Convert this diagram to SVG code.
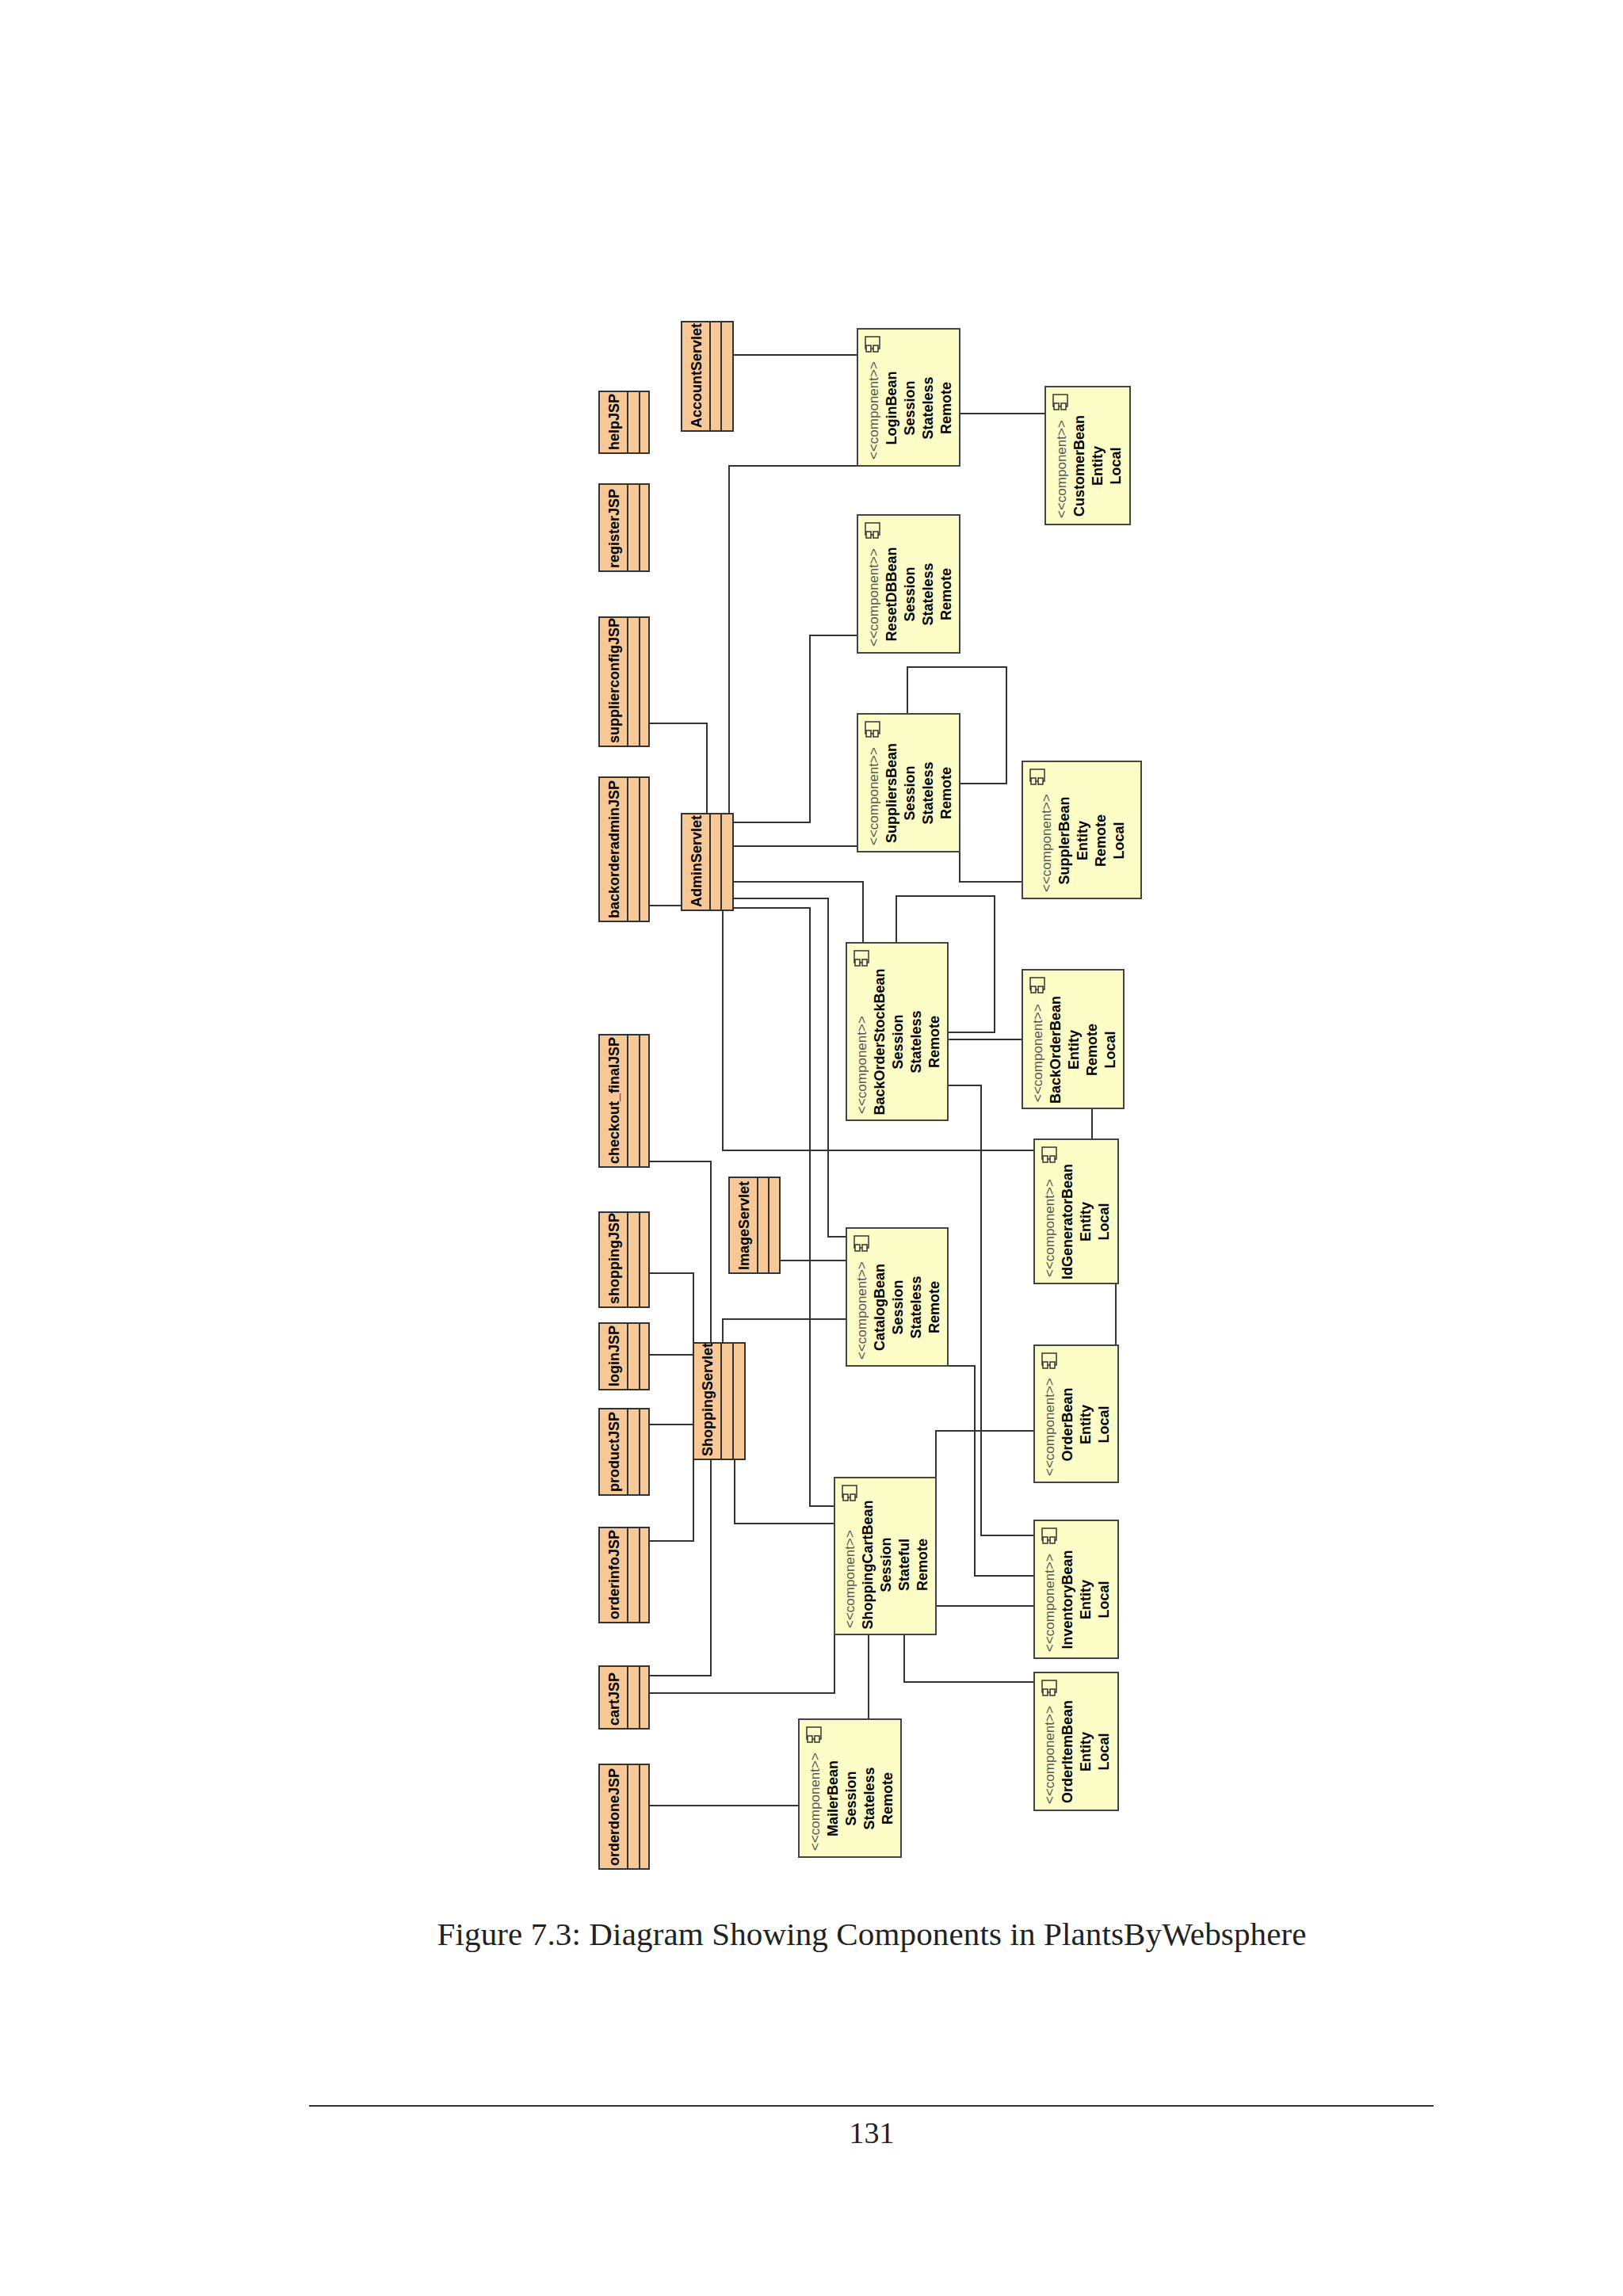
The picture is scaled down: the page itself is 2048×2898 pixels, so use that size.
<svg xmlns="http://www.w3.org/2000/svg" width="2048" height="2898" viewBox="0 0 2048 2898">
<style>
.cls{fill:#F8C896;stroke:#333;stroke-width:2}
.cl{stroke:#333;stroke-width:2}
.bean{fill:#FDFDC8;stroke:#444;stroke-width:2}
.ico{fill:#FDFDC8;stroke:#333;stroke-width:1.5}
.cn{font-family:"Liberation Sans",Arial,sans-serif;font-weight:bold;font-size:18px;fill:#000}
.st{font-family:"Liberation Sans",Arial,sans-serif;font-size:17px;fill:#555}
.bn{font-family:"Liberation Sans",Arial,sans-serif;font-weight:bold;font-size:18px;fill:#000;text-anchor:middle}
#conn path{fill:none;stroke:#333;stroke-width:2}
</style>
<rect width="2048" height="2898" fill="#fff"/>
<g id="conn">
<path d="M925,448 H1082"/>
<path d="M1211,522 H1319"/>
<path d="M920,1027 V588 H1082"/>
<path d="M819,913 H892 V1027"/>
<path d="M819,1143 H860"/>
<path d="M925,1038 H1022 V802 H1082"/>
<path d="M925,1068 H1082"/>
<path d="M1145,901 V842 H1270 V989 H1211"/>
<path d="M1211,1075 V1113 H1290"/>
<path d="M925,1113 H1089 V1190"/>
<path d="M925,1134 H1045 V1561 H1068"/>
<path d="M925,1146 H1022 V1901 H1053"/>
<path d="M912,1149 V1452 H1305"/>
<path d="M1131,1190 V1131 H1255 V1303 H1196"/>
<path d="M1196,1312 H1290"/>
<path d="M1196,1370 H1238 V1938 H1305"/>
<path d="M1378,1399 V1438"/>
<path d="M819,1466 H897 V1695"/>
<path d="M984,1591 H1068"/>
<path d="M912,1695 V1665 H1068"/>
<path d="M819,1607 H875 V1945 H819"/>
<path d="M819,1710 H875"/>
<path d="M819,1798 H875"/>
<path d="M1408,1620 V1698"/>
<path d="M1196,1724 H1230 V1989 H1305"/>
<path d="M1305,1806 H1181 V1865"/>
<path d="M927,1842 V1923 H1053"/>
<path d="M897,1842 V2115 H819"/>
<path d="M1181,2027 H1305"/>
<path d="M1096,2063 V2170"/>
<path d="M1141,2063 V2123 H1305"/>
<path d="M819,2137 H1053 V2063"/>
<path d="M819,2279 H1008"/>
</g>
<defs>
<g id="icon"><rect class="ico" x="2" y="0" width="18" height="15"/><rect class="ico" x="3" y="11" width="6" height="8"/><rect class="ico" x="12" y="11" width="6" height="8"/></g>
</defs>
<g id="helpJSP"><rect class="cls" x="756" y="494" width="63" height="78"/><path class="cl" d="M792,494V572M807,494V572"/><text class="cn" transform="translate(781,568) rotate(-90)">helpJSP</text></g>
<g id="registerJSP"><rect class="cls" x="756" y="611" width="63" height="110"/><path class="cl" d="M792,611V721M807,611V721"/><text class="cn" transform="translate(781,717) rotate(-90)">registerJSP</text></g>
<g id="supplierconfigJSP"><rect class="cls" x="756" y="779" width="63" height="163"/><path class="cl" d="M792,779V942M807,779V942"/><text class="cn" transform="translate(781,938) rotate(-90)">supplierconfigJSP</text></g>
<g id="backorderadminJSP"><rect class="cls" x="756" y="981" width="63" height="182"/><path class="cl" d="M792,981V1163M807,981V1163"/><text class="cn" transform="translate(781,1159) rotate(-90)">backorderadminJSP</text></g>
<g id="checkout_finalJSP"><rect class="cls" x="756" y="1306" width="63" height="167"/><path class="cl" d="M792,1306V1473M807,1306V1473"/><text class="cn" transform="translate(781,1469) rotate(-90)">checkout_finalJSP</text></g>
<g id="shoppingJSP"><rect class="cls" x="756" y="1530" width="63" height="120"/><path class="cl" d="M792,1530V1650M807,1530V1650"/><text class="cn" transform="translate(781,1646) rotate(-90)">shoppingJSP</text></g>
<g id="loginJSP"><rect class="cls" x="756" y="1670" width="63" height="84"/><path class="cl" d="M792,1670V1754M807,1670V1754"/><text class="cn" transform="translate(781,1750) rotate(-90)">loginJSP</text></g>
<g id="productJSP"><rect class="cls" x="756" y="1778" width="63" height="109"/><path class="cl" d="M792,1778V1887M807,1778V1887"/><text class="cn" transform="translate(781,1883) rotate(-90)">productJSP</text></g>
<g id="orderinfoJSP"><rect class="cls" x="756" y="1928" width="63" height="120"/><path class="cl" d="M792,1928V2048M807,1928V2048"/><text class="cn" transform="translate(781,2044) rotate(-90)">orderinfoJSP</text></g>
<g id="cartJSP"><rect class="cls" x="756" y="2103" width="63" height="79"/><path class="cl" d="M792,2103V2182M807,2103V2182"/><text class="cn" transform="translate(781,2178) rotate(-90)">cartJSP</text></g>
<g id="orderdoneJSP"><rect class="cls" x="756" y="2227" width="63" height="132"/><path class="cl" d="M792,2227V2359M807,2227V2359"/><text class="cn" transform="translate(781,2355) rotate(-90)">orderdoneJSP</text></g>
<g id="AccountServlet"><rect class="cls" x="860" y="406" width="65" height="138"/><path class="cl" d="M896,406V544M910,406V544"/><text class="cn" transform="translate(885,540) rotate(-90)">AccountServlet</text></g>
<g id="AdminServlet"><rect class="cls" x="860" y="1027" width="65" height="122"/><path class="cl" d="M896,1027V1149M910,1027V1149"/><text class="cn" transform="translate(885,1145) rotate(-90)">AdminServlet</text></g>
<g id="ImageServlet"><rect class="cls" x="920" y="1486" width="64" height="121"/><path class="cl" d="M956,1486V1607M970,1486V1607"/><text class="cn" transform="translate(945,1603) rotate(-90)">ImageServlet</text></g>
<g id="ShoppingServlet"><rect class="cls" x="875" y="1695" width="65" height="147"/><path class="cl" d="M910,1695V1842M925,1695V1842"/><text class="cn" transform="translate(899,1838) rotate(-90)">ShoppingServlet</text></g>

<g id="LoginBean"><rect class="bean" x="1082" y="415" width="129" height="173"/><use href="#icon" x="1090" y="425"/>
<text class="st" transform="translate(1108,580) rotate(-90)">&lt;&lt;component&gt;&gt;</text>
<text class="bn" transform="translate(1131,515) rotate(-90)">LoginBean</text><text class="bn" transform="translate(1154,515) rotate(-90)">Session</text><text class="bn" transform="translate(1177,515) rotate(-90)">Stateless</text><text class="bn" transform="translate(1200,515) rotate(-90)">Remote</text></g>
<g id="CustomerBean"><rect class="bean" x="1319" y="488" width="107" height="174"/><use href="#icon" x="1327" y="498"/>
<text class="st" transform="translate(1345,654) rotate(-90)">&lt;&lt;component&gt;&gt;</text>
<text class="bn" transform="translate(1368,588) rotate(-90)">CustomerBean</text><text class="bn" transform="translate(1391,588) rotate(-90)">Entity</text><text class="bn" transform="translate(1414,588) rotate(-90)">Local</text></g>
<g id="ResetDBBean"><rect class="bean" x="1082" y="650" width="129" height="174"/><use href="#icon" x="1090" y="660"/>
<text class="st" transform="translate(1108,816) rotate(-90)">&lt;&lt;component&gt;&gt;</text>
<text class="bn" transform="translate(1131,750) rotate(-90)">ResetDBBean</text><text class="bn" transform="translate(1154,750) rotate(-90)">Session</text><text class="bn" transform="translate(1177,750) rotate(-90)">Stateless</text><text class="bn" transform="translate(1200,750) rotate(-90)">Remote</text></g>
<g id="SuppliersBean"><rect class="bean" x="1082" y="901" width="129" height="174"/><use href="#icon" x="1090" y="911"/>
<text class="st" transform="translate(1108,1067) rotate(-90)">&lt;&lt;component&gt;&gt;</text>
<text class="bn" transform="translate(1131,1001) rotate(-90)">SuppliersBean</text><text class="bn" transform="translate(1154,1001) rotate(-90)">Session</text><text class="bn" transform="translate(1177,1001) rotate(-90)">Stateless</text><text class="bn" transform="translate(1200,1001) rotate(-90)">Remote</text></g>
<g id="SupplerBean"><rect class="bean" x="1290" y="961" width="150" height="173"/><use href="#icon" x="1298" y="971"/>
<text class="st" transform="translate(1326,1126) rotate(-90)">&lt;&lt;component&gt;&gt;</text>
<text class="bn" transform="translate(1349,1061) rotate(-90)">SupplerBean</text><text class="bn" transform="translate(1372,1061) rotate(-90)">Entity</text><text class="bn" transform="translate(1395,1061) rotate(-90)">Remote</text><text class="bn" transform="translate(1418,1061) rotate(-90)">Local</text></g>
<g id="BackOrderStockBean"><rect class="bean" x="1068" y="1190" width="128" height="224"/><use href="#icon" x="1076" y="1200"/>
<text class="st" transform="translate(1093,1406) rotate(-90)">&lt;&lt;component&gt;&gt;</text>
<text class="bn" transform="translate(1116,1315) rotate(-90)">BackOrderStockBean</text><text class="bn" transform="translate(1139,1315) rotate(-90)">Session</text><text class="bn" transform="translate(1162,1315) rotate(-90)">Stateless</text><text class="bn" transform="translate(1185,1315) rotate(-90)">Remote</text></g>
<g id="BackOrderBean"><rect class="bean" x="1290" y="1224" width="128" height="175"/><use href="#icon" x="1298" y="1234"/>
<text class="st" transform="translate(1315,1391) rotate(-90)">&lt;&lt;component&gt;&gt;</text>
<text class="bn" transform="translate(1338,1325) rotate(-90)">BackOrderBean</text><text class="bn" transform="translate(1361,1325) rotate(-90)">Entity</text><text class="bn" transform="translate(1384,1325) rotate(-90)">Remote</text><text class="bn" transform="translate(1407,1325) rotate(-90)">Local</text></g>
<g id="IdGeneratorBean"><rect class="bean" x="1305" y="1438" width="106" height="182"/><use href="#icon" x="1313" y="1448"/>
<text class="st" transform="translate(1330,1612) rotate(-90)">&lt;&lt;component&gt;&gt;</text>
<text class="bn" transform="translate(1353,1542) rotate(-90)">IdGeneratorBean</text><text class="bn" transform="translate(1376,1542) rotate(-90)">Entity</text><text class="bn" transform="translate(1399,1542) rotate(-90)">Local</text></g>
<g id="CatalogBean"><rect class="bean" x="1068" y="1550" width="128" height="174"/><use href="#icon" x="1076" y="1560"/>
<text class="st" transform="translate(1093,1716) rotate(-90)">&lt;&lt;component&gt;&gt;</text>
<text class="bn" transform="translate(1116,1650) rotate(-90)">CatalogBean</text><text class="bn" transform="translate(1139,1650) rotate(-90)">Session</text><text class="bn" transform="translate(1162,1650) rotate(-90)">Stateless</text><text class="bn" transform="translate(1185,1650) rotate(-90)">Remote</text></g>
<g id="OrderBean"><rect class="bean" x="1305" y="1698" width="106" height="173"/><use href="#icon" x="1313" y="1708"/>
<text class="st" transform="translate(1330,1863) rotate(-90)">&lt;&lt;component&gt;&gt;</text>
<text class="bn" transform="translate(1353,1798) rotate(-90)">OrderBean</text><text class="bn" transform="translate(1376,1798) rotate(-90)">Entity</text><text class="bn" transform="translate(1399,1798) rotate(-90)">Local</text></g>
<g id="ShoppingCartBean"><rect class="bean" x="1053" y="1865" width="128" height="198"/><use href="#icon" x="1061" y="1875"/>
<text class="st" transform="translate(1078,2055) rotate(-90)">&lt;&lt;component&gt;&gt;</text>
<text class="bn" transform="translate(1101,1975) rotate(-90)">ShoppingCartBean</text><text class="bn" transform="translate(1124,1975) rotate(-90)">Session</text><text class="bn" transform="translate(1147,1975) rotate(-90)">Stateful</text><text class="bn" transform="translate(1170,1975) rotate(-90)">Remote</text></g>
<g id="InventoryBean"><rect class="bean" x="1305" y="1919" width="106" height="174"/><use href="#icon" x="1313" y="1929"/>
<text class="st" transform="translate(1330,2085) rotate(-90)">&lt;&lt;component&gt;&gt;</text>
<text class="bn" transform="translate(1353,2019) rotate(-90)">InventoryBean</text><text class="bn" transform="translate(1376,2019) rotate(-90)">Entity</text><text class="bn" transform="translate(1399,2019) rotate(-90)">Local</text></g>
<g id="OrderItemBean"><rect class="bean" x="1305" y="2111" width="106" height="174"/><use href="#icon" x="1313" y="2121"/>
<text class="st" transform="translate(1330,2277) rotate(-90)">&lt;&lt;component&gt;&gt;</text>
<text class="bn" transform="translate(1353,2211) rotate(-90)">OrderItemBean</text><text class="bn" transform="translate(1376,2211) rotate(-90)">Entity</text><text class="bn" transform="translate(1399,2211) rotate(-90)">Local</text></g>
<g id="MailerBean"><rect class="bean" x="1008" y="2170" width="129" height="174"/><use href="#icon" x="1016" y="2180"/>
<text class="st" transform="translate(1034,2336) rotate(-90)">&lt;&lt;component&gt;&gt;</text>
<text class="bn" transform="translate(1057,2270) rotate(-90)">MailerBean</text><text class="bn" transform="translate(1080,2270) rotate(-90)">Session</text><text class="bn" transform="translate(1103,2270) rotate(-90)">Stateless</text><text class="bn" transform="translate(1126,2270) rotate(-90)">Remote</text></g>

<text x="1100" y="2455" text-anchor="middle" font-family="Liberation Serif,serif" font-size="41" fill="#222" textLength="1097">Figure 7.3: Diagram Showing Components in PlantsByWebsphere</text>
<line x1="390" y1="2658" x2="1809" y2="2658" stroke="#333" stroke-width="2"/>
<text x="1100" y="2705" text-anchor="middle" font-family="Liberation Serif,serif" font-size="38" fill="#222">131</text>
</svg>
